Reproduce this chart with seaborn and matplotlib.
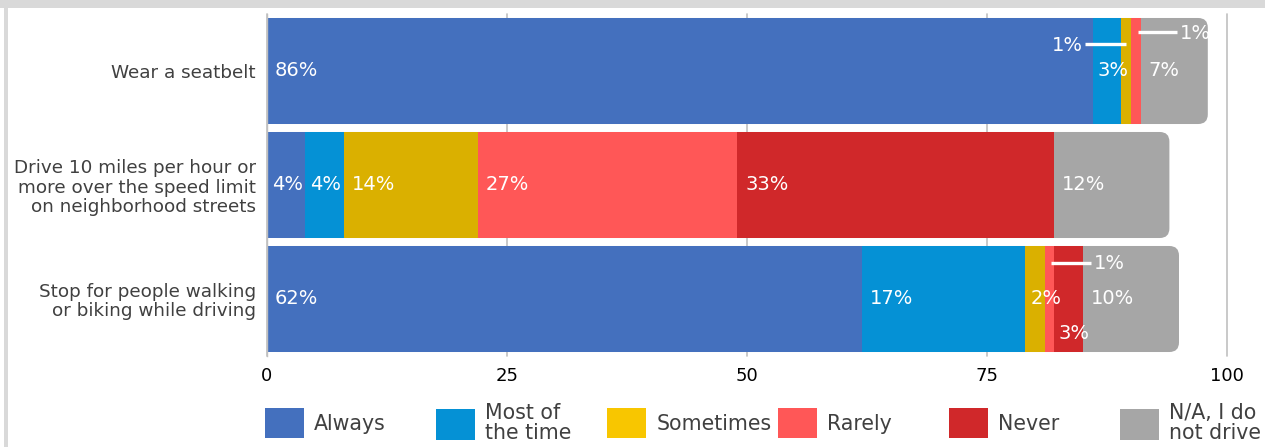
import numpy as np
import matplotlib
matplotlib.use("Agg")
import matplotlib.pyplot as plt
import seaborn as sns
from matplotlib.patches import Patch, FancyBboxPatch, Rectangle

# ---------------- data ----------------
categories = [
    "Wear a seatbelt",
    "Drive 10 miles per hour or\nmore over the speed limit\non neighborhood streets",
    "Stop for people walking\nor biking while driving",
]
always = [86, 4, 62]
most_of_the_time = [3, 4, 17]
sometimes = [1, 14, 2]
rarely = [1, 27, 1]
never = [0, 33, 3]
not_drive = [7, 12, 10]
series_names = ["Always", "Most of\nthe time", "Sometimes", "Rarely", "Never", "N/A, I do\nnot drive"]
x_ticks = [0, 25, 50, 75, 100]

# ---------------- style ----------------
bar_colors = ["#4470BE", "#0591D5", "#DAB000", "#FF5757", "#D0282A", "#A6A6A6"]
legend_colors = ["#4470BE", "#0591D5", "#F8C600", "#FF5757", "#D0282A", "#A6A6A6"]
text_gray = "#404040"

sns.set_theme(style="white")
plt.rcParams["font.family"] = ["DejaVu Sans"]

W, H = 1265, 447
fig = plt.figure(figsize=(W / 100, H / 100), dpi=100)
fig.patch.set_facecolor("white")
fig.add_artist(Rectangle((0, 1 - 8 / H), 1, 8 / H, transform=fig.transFigure,
                         facecolor="#D9D9D9", edgecolor="none", zorder=0))
fig.add_artist(Rectangle((4 / W, 0), 4 / W, 1, transform=fig.transFigure,
                         facecolor="#D9D9D9", edgecolor="none", zorder=0))

ax = fig.add_axes([267 / W, 1 - 356 / H, 960 / W, 342 / H])

values = np.array([always, most_of_the_time, sometimes, rarely, never, not_drive], dtype=float)
cum = values.cumsum(axis=0)
starts = cum - values

# stacked bars: draw cumulative totals from the largest to the smallest
aspect = (1 / 114) / (1 / 9.6)
for i in reversed(range(len(series_names))):
    n_before = len(ax.patches)
    sns.barplot(x=cum[i], y=categories, orient="h", color=bar_colors[i],
                saturation=1, width=0.93, ax=ax, zorder=2, linewidth=0)
    if i == len(series_names) - 1:
        for p in list(ax.patches[n_before:]):
            x0, y0, w, h = p.get_x(), p.get_y(), p.get_width(), p.get_height()
            p.remove()
            ax.add_patch(FancyBboxPatch((x0, y0), w, h,
                                        boxstyle="round,pad=0,rounding_size=1.0",
                                        mutation_aspect=aspect,
                                        facecolor=bar_colors[i], edgecolor="none", zorder=2))

ax.set_xlim(0, 100)
ax.set_ylim(2.5, -0.5)
ax.set_xticks(x_ticks)
ax.set_xticklabels([str(t) for t in x_ticks], fontsize=13, color="black")
ax.set_xlabel("")
ax.set_ylabel("")
ax.tick_params(axis="x", length=0, pad=8)
ax.tick_params(axis="y", length=0, pad=8, labelsize=13.2, labelcolor=text_gray)
for lab in ax.get_yticklabels():
    lab.set_linespacing(1.08)
    lab.set_horizontalalignment("right")

ax.xaxis.grid(True, color="#C0C0C0", linewidth=1.2, zorder=0)
ax.yaxis.grid(False)
ax.set_axisbelow(True)
for gl in ax.get_xgridlines():
    gl.set_clip_on(False)
for s in ["top", "right", "bottom"]:
    ax.spines[s].set_visible(False)
ax.spines["left"].set_color("#C0C0C0")
ax.spines["left"].set_linewidth(1.0)

# ---------------- value labels ----------------
callouts = {(2, 0): ("left", -0.24), (3, 0): ("right", -0.34), (3, 2): ("right", -0.32)}
y_shift = {(4, 2): 0.30}
for i in range(len(series_names)):
    for j in range(len(categories)):
        v = values[i, j]
        if v <= 0:
            continue
        label = f"{int(v)}%"
        if (i, j) in callouts:
            side, dy = callouts[(i, j)]
            xc = starts[i, j] + v / 2
            if side == "left":
                ax.plot([xc - 4.3, xc], [j + dy, j + dy], color="white", lw=2.4, zorder=4,
                        solid_capstyle="butt")
                ax.text(xc - 4.5, j + dy + 0.02, label, color="white", fontsize=14,
                        ha="right", va="center", zorder=5)
            else:
                ax.plot([xc + 0.2, xc + 4.3], [j + dy, j + dy], color="white", lw=2.4, zorder=4,
                        solid_capstyle="butt")
                ax.text(xc + 4.6, j + dy + 0.01, label, color="white", fontsize=14,
                        ha="left", va="center", zorder=5)
            continue
        off = 0.5 if v < 5 else 0.8
        ax.text(starts[i, j] + off, j + y_shift.get((i, j), 0.0), label, color="white",
                fontsize=14, ha="left", va="center", zorder=5)

# ---------------- legend ----------------
leg_fs = 14.8
for i, name in enumerate(series_names):
    px = 265 + i * 171
    leg = fig.legend(handles=[Patch(facecolor=legend_colors[i], edgecolor="none")],
                     labels=[name], loc="center left",
                     bbox_to_anchor=(px / W, 1 - 423 / H), frameon=False,
                     borderpad=0, borderaxespad=0, fontsize=leg_fs,
                     handlelength=1.9, handleheight=1.9, handletextpad=0.5,
                     labelcolor=text_gray)
    for t in leg.get_texts():
        t.set_linespacing(0.95)

fig.savefig("out.png", dpi=100)
